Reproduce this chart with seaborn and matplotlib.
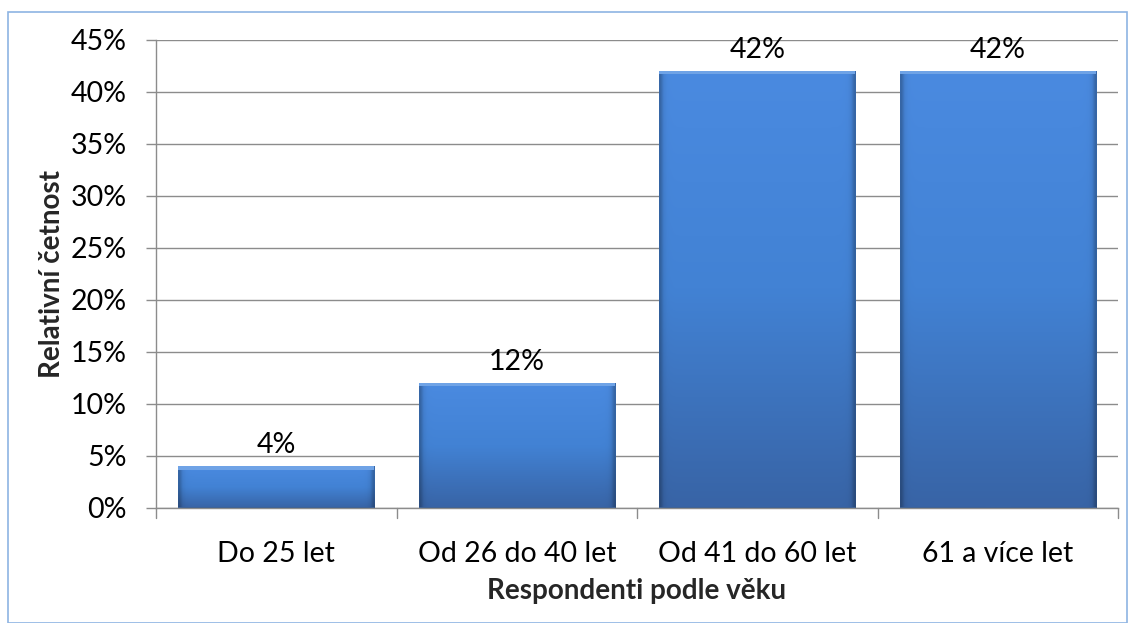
import numpy as np
import pandas as pd
import matplotlib
matplotlib.use("Agg")
import matplotlib.pyplot as plt
import seaborn as sns
from matplotlib.ticker import PercentFormatter, MultipleLocator
from matplotlib.colors import LinearSegmentedColormap
from matplotlib.patches import Rectangle

categories = ["Do 25 let", "Od 26 do 40 let", "Od 41 do 60 let", "61 a více let"]
values = [4, 12, 42, 42]
y_label = "Relativní četnost"
x_label = "Respondenti podle věku"

sns.set_theme(style="white")
plt.rcParams['font.family'] = ['Lato', 'DejaVu Sans']

df = pd.DataFrame({"cat": categories, "val": values})

fig = plt.figure(figsize=(11.28, 6.23), dpi=100)
ax = fig.add_axes([156/1128, 1-508/623, (1118-156)/1128, (508-40)/623])

sns.barplot(data=df, x="cat", y="val", color="#4180d2", width=0.815, ax=ax,
            edgecolor="none", linewidth=0, zorder=3)

ax.set_ylim(0, 45)
ax.set_xlim(-0.5, 3.5)
ax.yaxis.set_major_locator(MultipleLocator(5))
ax.yaxis.set_major_formatter(PercentFormatter(decimals=0))
ax.grid(axis="y", color="#8c8c8c", linewidth=1.0, zorder=0)
ax.grid(axis="x", visible=False)
for s in ["top", "right"]:
    ax.spines[s].set_visible(False)
for s in ["left", "bottom"]:
    ax.spines[s].set_color("#8c8c8c")
    ax.spines[s].set_linewidth(1.0)
    ax.spines[s].set_zorder(4)

ax.tick_params(axis="y", left=True, length=7, width=1, color="#8c8c8c",
               labelsize=20.5, labelcolor="black", pad=14)
ax.tick_params(axis="x", bottom=False, labelsize=20.5, labelcolor="black", pad=18)
for xb in [-0.5, 0.5, 1.5, 2.5, 3.5]:
    ax.plot([xb, xb], [0, -0.022], transform=ax.get_xaxis_transform(),
            color="#8c8c8c", lw=1, clip_on=False, zorder=4)

ax.set_xlabel(x_label, fontsize=20, fontweight="bold", labelpad=8)
ax.set_ylabel(y_label, fontsize=20, fontweight="bold", labelpad=4)

# gradient fill for bars
cmap_v = LinearSegmentedColormap.from_list("v", ["#3864a6", "#4282d4", "#4a8ae0"])
ny, nx = 100, 60
yy = np.linspace(0, 1, ny)[:, None]
xx = np.linspace(0, 1, nx)[None, :]
base = np.ones((ny, nx)) * yy
for p in list(ax.patches):
    x0, y0 = p.get_x(), p.get_y()
    w, h = p.get_width(), p.get_height()
    rgb = cmap_v(base)[..., :3]
    edge = np.clip(1 - 0.25 * np.exp(-xx / 0.012) - 0.25 * np.exp(-(1 - xx) / 0.012), 0, 1)
    rgb = rgb * edge[..., None]
    im = ax.imshow(rgb, extent=[x0, x0 + w, y0, y0 + h], origin="lower",
                   aspect="auto", zorder=3.5, interpolation="bilinear")
    im.set_clip_path(p)
    ax.add_patch(Rectangle((x0, y0 + h - 0.3), w, 0.3, color="#6fa3e6",
                           zorder=3.6, lw=0))
    ax.add_patch(Rectangle((x0, y0), w, 0.12, color="#2f5a96", zorder=3.6, lw=0))

for i, v in enumerate(values):
    ax.text(i, v + 0.8, f"{v}%", ha="center", va="bottom", fontsize=20.5, color="black", zorder=5)

fig.add_artist(Rectangle((8/1128, 0), 1 - 8/1128 - 1/1128, 1 - 12/623,
                         transform=fig.transFigure, fill=False,
                         edgecolor="#8eb4e3", lw=1.2))

fig.savefig("out.png", dpi=100)
